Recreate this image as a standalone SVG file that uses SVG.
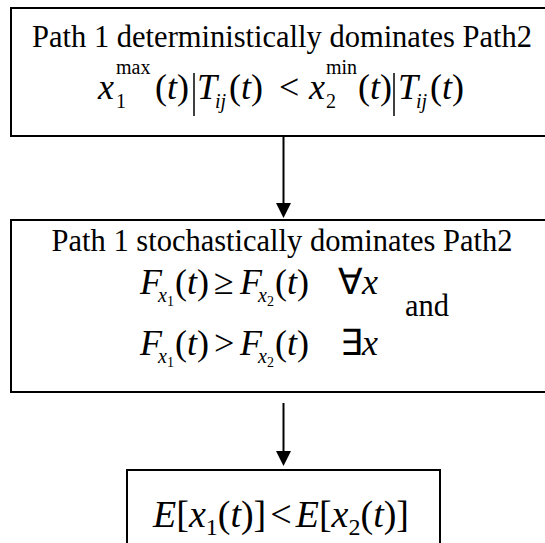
<svg xmlns="http://www.w3.org/2000/svg" width="545" height="543" viewBox="0 0 545 543">
<style>
.box{fill:#fff;stroke:#000;stroke-width:2}
text{font-family:'Liberation Serif','Times New Roman',serif;fill:#000}
.i{font-style:italic}
.c{stroke:#000;stroke-width:2;fill:none}
</style>
<rect width="545" height="543" fill="#fff"/>
<g id="node1">
<rect class="box" x="11" y="8" width="560" height="128"/>
<text x="282" y="47" font-size="30.5" text-anchor="middle">Path 1 deterministically dominates Path2</text>
<text y="99" font-size="36"><tspan class="i" x="98">x</tspan><tspan x="116" y="74" font-size="20">max</tspan><tspan x="116" y="108" font-size="20">1</tspan><tspan x="155" y="99">(</tspan><tspan class="i">t</tspan><tspan>)</tspan><tspan class="i" x="197">T</tspan><tspan class="i" x="215" y="108" font-size="20">ij</tspan><tspan x="229" y="99">(</tspan><tspan class="i">t</tspan><tspan>)</tspan><tspan x="279">&lt;</tspan><tspan class="i" x="309">x</tspan><tspan x="326" y="74" font-size="20">min</tspan><tspan x="326" y="108" font-size="20">2</tspan><tspan x="358" y="99">(</tspan><tspan class="i">t</tspan><tspan>)</tspan><tspan class="i" x="398">T</tspan><tspan class="i" x="416" y="108" font-size="20">ij</tspan><tspan x="430" y="99">(</tspan><tspan class="i">t</tspan><tspan>)</tspan></text>
<line x1="194" y1="73" x2="194" y2="116" stroke="#000" stroke-width="1.5"/>
<line x1="394" y1="73" x2="394" y2="116" stroke="#000" stroke-width="1.5"/>
</g>
<g id="node2">
<rect class="box" x="11" y="220" width="560" height="172"/>
<text x="282" y="251" font-size="30.5" text-anchor="middle">Path 1 stochastically dominates Path2</text>
<text y="294" font-size="36"><tspan class="i" x="140">F</tspan><tspan class="i" x="158" y="302" font-size="20">x</tspan><tspan x="167" y="306" font-size="14">1</tspan><tspan x="175" y="294">(</tspan><tspan class="i">t</tspan><tspan>)</tspan><tspan x="214">≥</tspan><tspan class="i" x="240">F</tspan><tspan class="i" x="258" y="302" font-size="20">x</tspan><tspan x="267" y="306" font-size="14">2</tspan><tspan x="275" y="294">(</tspan><tspan class="i">t</tspan><tspan>)</tspan><tspan x="338">∀</tspan><tspan class="i" x="362">x</tspan></text>
<text x="405" y="316" font-size="30.5">and</text>
<text y="355" font-size="36"><tspan class="i" x="140">F</tspan><tspan class="i" x="158" y="363" font-size="20">x</tspan><tspan x="167" y="367" font-size="14">1</tspan><tspan x="175" y="355">(</tspan><tspan class="i">t</tspan><tspan>)</tspan><tspan x="214">&gt;</tspan><tspan class="i" x="240">F</tspan><tspan class="i" x="258" y="363" font-size="20">x</tspan><tspan x="267" y="367" font-size="14">2</tspan><tspan x="275" y="355">(</tspan><tspan class="i">t</tspan><tspan>)</tspan><tspan x="340">∃</tspan><tspan class="i" x="362">x</tspan></text>
</g>
<g id="node3">
<rect class="box" x="127" y="470" width="313" height="100"/>
<text y="527" font-size="38"><tspan class="i" x="153">E</tspan><tspan>[</tspan><tspan class="i">x</tspan><tspan font-size="24" dy="8">1</tspan><tspan dy="-8">(</tspan><tspan class="i">t</tspan><tspan>)]</tspan><tspan dx="4">&lt;</tspan><tspan class="i" dx="4">E</tspan><tspan>[</tspan><tspan class="i">x</tspan><tspan font-size="24" dy="8">2</tspan><tspan dy="-8">(</tspan><tspan class="i">t</tspan><tspan>)]</tspan></text>
</g>
<g id="connectors">
<line class="c" x1="283.5" y1="136" x2="283.5" y2="205"/>
<polygon points="276,203 291,203 283.5,218" fill="#000"/>
<line class="c" x1="283.5" y1="403" x2="283.5" y2="453"/>
<polygon points="276,451 291,451 283.5,466" fill="#000"/>
</g>
</svg>
